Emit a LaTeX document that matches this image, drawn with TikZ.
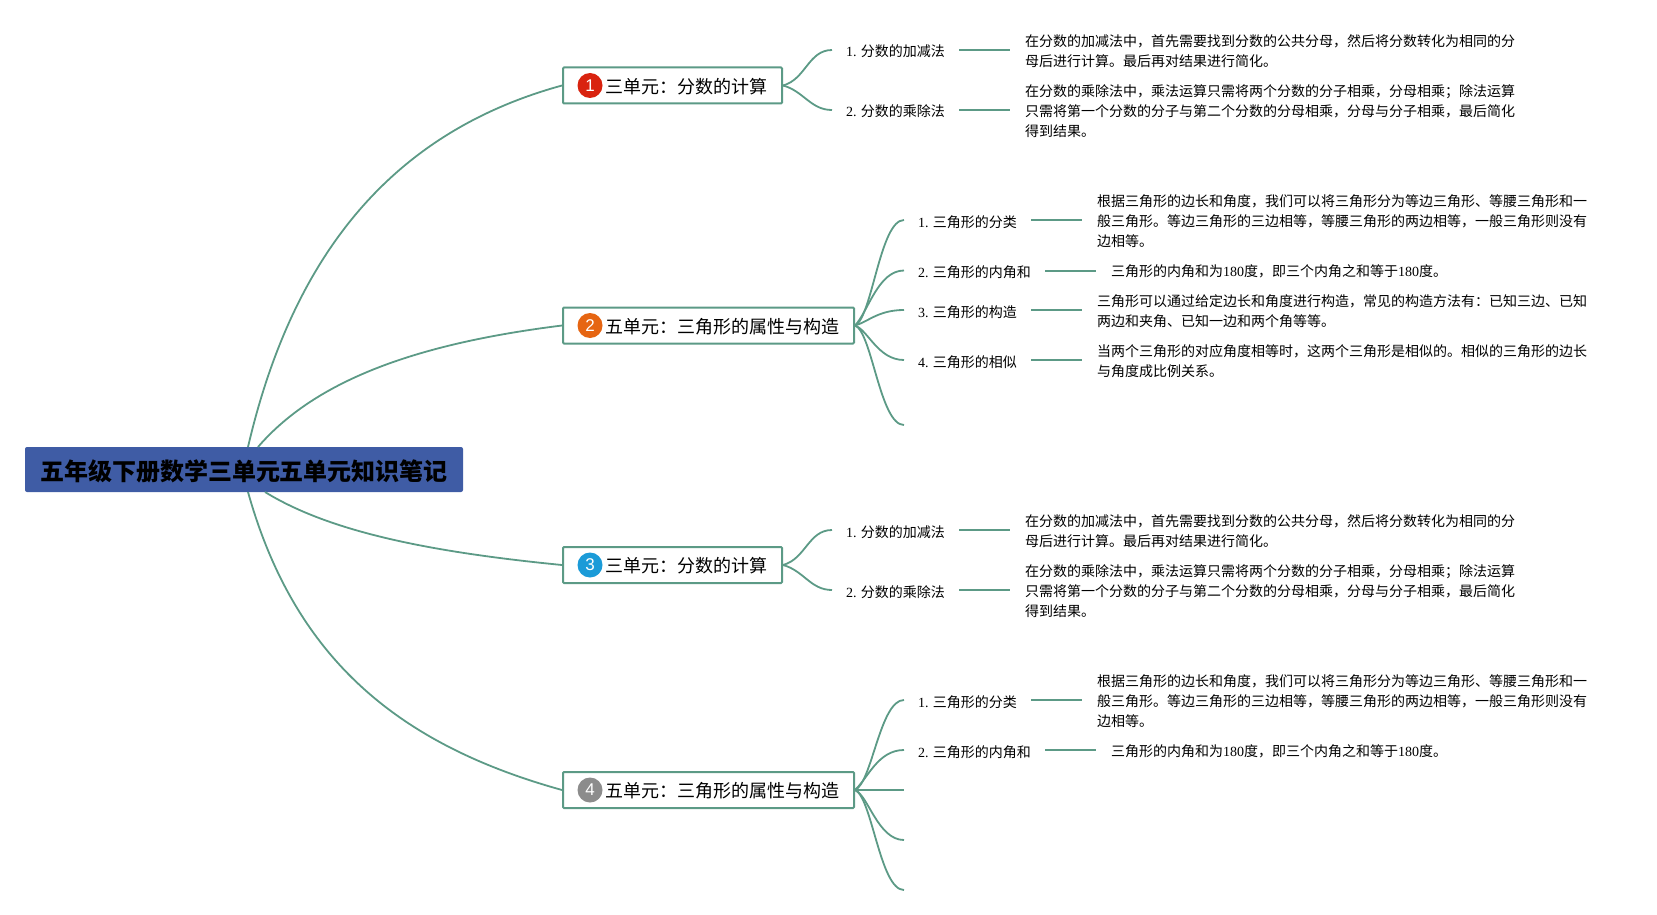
\documentclass[tikz,border=0pt]{standalone}
\usepackage{fontspec}
\setmainfont{Noto Sans CJK SC}
\newfontfamily\numfont{Liberation Serif}
\newfontfamily\badgefont{Liberation Sans}
\definecolor{linkgreen}{HTML}{5C9A86}
\definecolor{rootblue}{HTML}{3F5CA5}
\definecolor{badgered}{HTML}{D9230F}
\definecolor{badgeorange}{HTML}{E66512}
\definecolor{badgeblue}{HTML}{1B9BD8}
\definecolor{badgegray}{HTML}{8C8C8C}

\begin{document}
\begin{tikzpicture}[x=1pt, y=-1pt, auto,
    rootbox/.style ={fill=rootblue, rounded corners=2pt, minimum width=438pt, minimum height=45pt, inner sep=0pt, text depth=0pt, text height=22pt, font=\fontsize{24}{28}\selectfont\bfseries},
    unitbox/.style ={draw=linkgreen, fill=white, line width=2pt, rounded corners=1pt, anchor=west, minimum height=36pt, inner xsep=15pt, inner ysep=0pt, text width=#1, text depth=0pt, align=right, font=\fontsize{18}{22}\selectfont},
    badge/.style ={circle, fill=#1, text=white, minimum size=25pt, inner sep=0pt, font=\fontsize{17}{17}\selectfont\badgefont},
    topic/.style ={anchor=west, inner xsep=14pt, inner ysep=2pt, text depth=0pt, text height=14pt, font=\fontsize{14}{20}\selectfont},
    note/.style ={anchor=west, inner xsep=15pt, inner ysep=0pt, align=left, font=\fontsize{14}{20}\selectfont},
    branch/.style ={draw=linkgreen, line width=1.8pt},
    twig/.style ={draw=linkgreen, line width=2pt}]
   \useasboundingbox (0,0) rectangle (1657,915);
   % root
   \node[rootbox] (R) at (244,469.5) {五年级下册数学三单元五单元知识笔记};
   \coordinate (R1) at (248,447);
   \coordinate (R2) at (258,447);
   \coordinate (R3) at (265,492);
   \coordinate (R4) at (248,492);
   % units
   \node[unitbox=189pt] (U1) at (562,85.5) {三单元：分数的计算};
   \node[unitbox=261pt] (U2) at (562,325.5) {五单元：三角形的属性与构造};
   \node[unitbox=189pt] (U3) at (562,565) {三单元：分数的计算};
   \node[unitbox=261pt] (U4) at (562,790) {五单元：三角形的属性与构造};
   \node[badge=badgered] (B1) at (590,85.5) {1};
   \node[badge=badgeorange] (B2) at (590,325.5) {2};
   \node[badge=badgeblue] (B3) at (590,565) {3};
   \node[badge=badgegray] (B4) at (590,790) {4};
   \draw[branch] (R1) .. controls (295,245) and (400,130) .. (U1.west);
   \draw[branch] (R2) .. controls (320,375) and (430,342) .. (U2.west);
   \draw[branch] (R3) .. controls (330,532) and (430,552) .. (U3.west);
   \draw[branch] (R4) .. controls (295,660) and (400,745) .. (U4.west);
   % first unit
   \node[topic] (A1) at (832,50) {{\numfont 1.} 分数的加减法};
   \node[topic] (A2) at (832,110) {{\numfont 2.} 分数的乘除法};
   \node[note] (N1) at (1010,51.5) {在分数的加减法中，首先需要找到分数的公共分母，然后将分数转化为相同的分\\母后进行计算。最后再对结果进行简化。};
   \node[note] (N2) at (1010,111.5) {在分数的乘除法中，乘法运算只需将两个分数的分子相乘，分母相乘；除法运算\\只需将第一个分数的分子与第二个分数的分母相乘，分母与分子相乘，最后简化\\得到结果。};
   \draw[branch] (U1.east) to[out=15, in=180] (A1.west);
   \draw[branch] (U1.east) to[out=-15, in=180] (A2.west);
   \draw[twig] (A1.east) to (A1.east -| N1.west);
   \draw[twig] (A2.east) to (A2.east -| N2.west);
   % second unit
   \node[topic] (C1) at (904,220) {{\numfont 1.} 三角形的分类};
   \node[topic] (C2) at (904,270.5) {{\numfont 2.} 三角形的内角和};
   \node[topic] (C3) at (904,310) {{\numfont 3.} 三角形的构造};
   \node[topic] (C4) at (904,360) {{\numfont 4.} 三角形的相似};
   \coordinate (C5) at (904,425);
   \node[note] (M1) at (1082,221.5) {根据三角形的边长和角度，我们可以将三角形分为等边三角形、等腰三角形和一\\般三角形。等边三角形的三边相等，等腰三角形的两边相等，一般三角形则没有\\边相等。};
   \node[note] (M2) at (1096,271.5) {三角形的内角和为{\numfont 180}度，即三个内角之和等于{\numfont 180}度。};
   \node[note] (M3) at (1082,311.5) {三角形可以通过给定边长和角度进行构造，常见的构造方法有：已知三边、已知\\两边和夹角、已知一边和两个角等等。};
   \node[note] (M4) at (1082,361.5) {当两个三角形的对应角度相等时，这两个三角形是相似的。相似的三角形的边长\\与角度成比例关系。};
   \draw[branch] (U2.east) .. controls (872,318) and (880,220) .. (C1.west);
   \draw[branch] (U2.east) .. controls (868,312) and (878,270.5) .. (C2.west);
   \draw[branch] (U2.east) .. controls (868,322) and (878,310) .. (C3.west);
   \draw[branch] (U2.east) .. controls (868,330) and (878,360) .. (C4.west);
   \draw[branch] (U2.east) .. controls (872,332) and (880,425) .. (C5);
   \draw[twig] (C1.east) to (C1.east -| M1.west);
   \draw[twig] (C2.east) to (C2.east -| M2.west);
   \draw[twig] (C3.east) to (C3.east -| M3.west);
   \draw[twig] (C4.east) to (C4.east -| M4.west);
   % third unit
   \node[topic] (D1) at (832,530) {{\numfont 1.} 分数的加减法};
   \node[topic] (D2) at (832,590) {{\numfont 2.} 分数的乘除法};
   \node[note] (P1) at (1010,531.5) {在分数的加减法中，首先需要找到分数的公共分母，然后将分数转化为相同的分\\母后进行计算。最后再对结果进行简化。};
   \node[note] (P2) at (1010,591.5) {在分数的乘除法中，乘法运算只需将两个分数的分子相乘，分母相乘；除法运算\\只需将第一个分数的分子与第二个分数的分母相乘，分母与分子相乘，最后简化\\得到结果。};
   \draw[branch] (U3.east) to[out=15, in=180] (D1.west);
   \draw[branch] (U3.east) to[out=-15, in=180] (D2.west);
   \draw[twig] (D1.east) to (D1.east -| P1.west);
   \draw[twig] (D2.east) to (D2.east -| P2.west);
   % fourth unit
   \node[topic] (E1) at (904,700) {{\numfont 1.} 三角形的分类};
   \node[topic] (E2) at (904,750) {{\numfont 2.} 三角形的内角和};
   \coordinate (E3) at (904,790);
   \coordinate (E4) at (904,840);
   \coordinate (E5) at (904,890);
   \node[note] (Q1) at (1082,701.5) {根据三角形的边长和角度，我们可以将三角形分为等边三角形、等腰三角形和一\\般三角形。等边三角形的三边相等，等腰三角形的两边相等，一般三角形则没有\\边相等。};
   \node[note] (Q2) at (1096,751.5) {三角形的内角和为{\numfont 180}度，即三个内角之和等于{\numfont 180}度。};
   \draw[branch] (U4.east) .. controls (872,783) and (880,700) .. (E1.west);
   \draw[branch] (U4.east) .. controls (868,778) and (878,750) .. (E2.west);
   \draw[branch] (U4.east) to (E3);
   \draw[branch] (U4.east) .. controls (868,795) and (878,840) .. (E4);
   \draw[branch] (U4.east) .. controls (872,797) and (880,890) .. (E5);
   \draw[twig] (E1.east) to (E1.east -| Q1.west);
   \draw[twig] (E2.east) to (E2.east -| Q2.west);
 \end{tikzpicture}
\end{document}
